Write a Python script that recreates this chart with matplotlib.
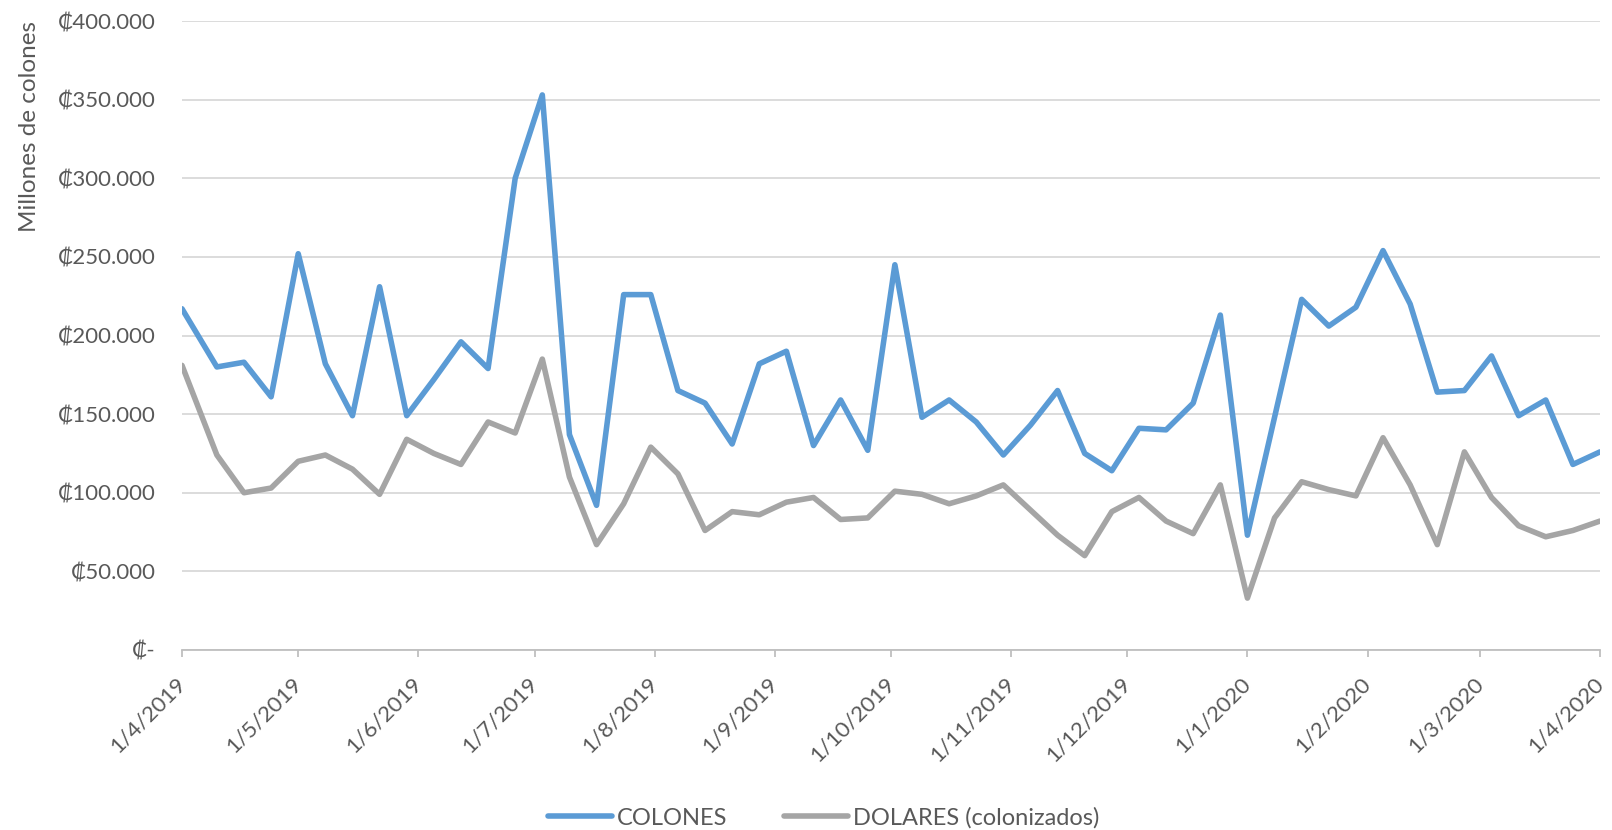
import matplotlib
matplotlib.use('Agg')
import matplotlib.pyplot as plt
import matplotlib.dates as mdates
from matplotlib.ticker import FuncFormatter
import pandas as pd

plt.rcParams['font.family'] = ['Lato', 'DejaVu Sans']

# primer dato el 1/4/2019, luego semanal (miercoles) hasta 1/4/2020
fechas = pd.to_datetime(['2019-04-01']).append(
    pd.date_range('2019-04-10', '2020-04-01', freq='7D'))

# valores en miles de millones (eje: ₡400.000 = 400 mil millones)
colones = [217, 180, 183, 161, 252, 182, 149, 231, 149, 172, 196, 179, 300, 353,
           137, 92, 226, 226, 165, 157, 131, 182, 190, 130, 159, 127, 245,
           148, 159, 145, 124, 143, 165, 125, 114, 141, 140, 157, 213, 73,
           148, 223, 206, 218, 254, 220, 164, 165, 187, 149, 159, 118, 126]
dolares = [181, 124, 100, 103, 120, 124, 115, 99, 134, 125, 118, 145, 138, 185,
           110, 67, 93, 129, 112, 76, 88, 86, 94, 97, 83, 84, 101,
           99, 93, 98, 105, 89, 73, 60, 88, 97, 82, 74, 105, 33,
           84, 107, 102, 98, 135, 105, 67, 126, 97, 79, 72, 76, 82]

gris_txt = '#595959'

fig = plt.figure(figsize=(16.12, 8.3), dpi=100)
ax = fig.add_axes([182/1612, 1-650/830, (1600-182)/1612, (650-21)/830])

ax.plot(fechas, colones, color='#5B9BD5', lw=4, label='COLONES',
        solid_joinstyle='round', solid_capstyle='round')
ax.plot(fechas, dolares, color='#A5A5A5', lw=4, label='DOLARES (colonizados)',
        solid_joinstyle='round', solid_capstyle='round')

ax.set_ylim(0, 400)
ax.set_xlim(pd.Timestamp('2019-04-01'), pd.Timestamp('2020-04-01'))
ax.set_yticks(range(0, 401, 50))

def fmt_y(v, pos):
    if v == 0:
        return '₡-'
    return '₡' + f'{v*1000:,.0f}'.replace(',', '.')

ax.yaxis.set_major_formatter(FuncFormatter(fmt_y))
ax.xaxis.set_major_locator(mdates.MonthLocator(bymonthday=1))

def fmt_x(x, pos):
    d = mdates.num2date(x)
    return f'{d.day}/{d.month}/{d.year}'

ax.xaxis.set_major_formatter(FuncFormatter(fmt_x))

ax.yaxis.grid(True, color='#D9D9D9', lw=1.3)
ax.set_axisbelow(True)
for s in ['top', 'right', 'left']:
    ax.spines[s].set_visible(False)
ax.spines['bottom'].set_color('#BFBFBF')
ax.spines['bottom'].set_linewidth(1.3)

ax.tick_params(axis='y', length=0, pad=19, labelsize=16, labelcolor=gris_txt)
ax.tick_params(axis='x', length=5, width=1.3, color='#BFBFBF', pad=17,
               labelsize=16, labelcolor=gris_txt)
for lab in ax.get_xticklabels():
    lab.set_rotation(45)
    lab.set_ha('right')
    lab.set_va('center')
    lab.set_rotation_mode('anchor')

fig.text(30/1612, 1-21/830, 'Millones de colones', rotation=90, va='top',
         ha='center', fontsize=17.5, color=gris_txt)

fig.legend(loc='center', bbox_to_anchor=(0.511, 1-818/830), ncol=2, frameon=False,
           fontsize=17, handlelength=2.7, handletextpad=0.2, columnspacing=2.4,
           labelcolor=gris_txt)

fig.savefig('out.png', dpi=100)
